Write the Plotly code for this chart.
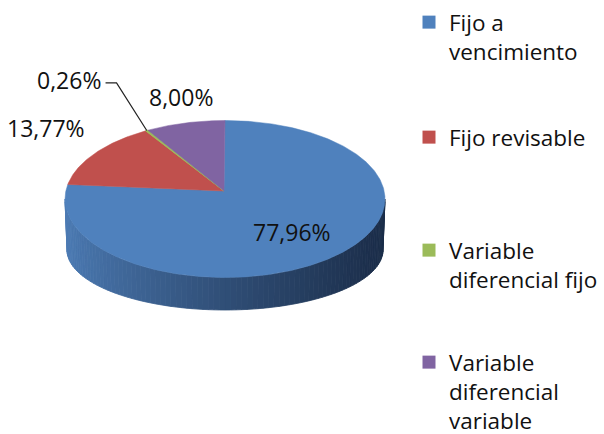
import numpy as np
import plotly.graph_objects as go

# ---- data ----
categories = ["Fijo a vencimiento", "Fijo revisable",
              "Variable diferencial fijo", "Variable diferencial variable"]
legend_labels = ["Fijo a<br>vencimiento", "Fijo revisable",
                 "Variable<br>diferencial fijo", "Variable<br>diferencial<br>variable"]
values = [77.96, 13.77, 0.26, 8.00]
colors = ["#4F81BD", "#C0504D", "#9BBB59", "#8064A2"]

# ---- geometry (pixel layout of the 3D pie) ----
W, H = 604, 434
CX, CY = 225, 199          # top face ellipse centre
A, B = 160, 78.5           # top face semi-axes
VX, VY = 224, 191          # apex of slices
BCY, BA, BB = 250, 158, 60 # bottom ellipse
FONT = "Open Sans"
TXT = "#111111"


def top_pt(deg):
    t = np.radians(deg)
    return CX + A * np.sin(t), CY - B * np.cos(t)


def bot_pt(deg):
    t = np.radians(deg)
    return CX + BA * np.sin(t), BCY - BB * np.cos(t)


fig = go.Figure()

# side of the pie (front half, gradient shaded)
light = np.array([76, 123, 180])
dark = np.array([27, 45, 73])
edges = np.linspace(90, 270, 91)
for a0, a1 in zip(edges[:-1], edges[1:]):
    xs0, ys0 = top_pt(a0)
    xs1, ys1 = top_pt(a1)
    xb1, yb1 = bot_pt(a1)
    xb0, yb0 = bot_pt(a0)
    xm = (xs0 + xs1) / 2
    t = np.clip((xm - (CX - A)) / (2 * A), 0, 1) ** 0.8
    c = light + (dark - light) * t
    col = "rgb(%d,%d,%d)" % tuple(c.round().astype(int))
    fig.add_trace(go.Scatter(
        x=[xs0, xs1, xb1, xb0, xs0], y=[ys0, ys1, yb1, yb0, ys0],
        mode="lines", fill="toself", fillcolor=col,
        line=dict(color=col, width=0.8), hoverinfo="skip", showlegend=False))

# top face wedges
total = sum(values)
cum = np.concatenate([[0], np.cumsum(values)]) / total * 360
mids = []
for i, (v, col) in enumerate(zip(values, colors)):
    s, e = cum[i], cum[i + 1]
    mids.append((s + e) / 2)
    n = max(3, int((e - s) / 0.5) + 2)
    ang = np.linspace(s, e, n)
    px, py = top_pt(ang)
    xs = np.concatenate([[VX], px, [VX]])
    ys = np.concatenate([[VY], py, [VY]])
    fig.add_trace(go.Scatter(
        x=xs, y=ys, mode="lines", fill="toself", fillcolor=col,
        line=dict(color=col, width=1 if v < 1 else 0.5),
        name=categories[i], hoverinfo="name", showlegend=False))

# data labels
label_k = [(0.66, 0.55), (1.37, 1.56), (2.0, 1.74), (1.1, 1.34)]
for i, v in enumerate(values):
    t = np.radians(mids[i])
    ox, oy = A * np.sin(t), -B * np.cos(t)
    kx, ky = label_k[i]
    lx, ly = CX + kx * ox, CY + ky * oy
    txt = ("%.2f%%" % v).replace(".", ",")
    fig.add_annotation(x=lx, y=ly, text=txt, showarrow=False,
                       font=dict(family=FONT, size=23, color=TXT),
                       xref="x", yref="y")
    if i == 2:
        ex, ey = top_pt(mids[i])
        x0 = lx + 37
        fig.add_trace(go.Scatter(
            x=[x0, x0 + 11, ex], y=[ly + 3, ly + 3, ey], mode="lines",
            line=dict(color="#222222", width=1.2), hoverinfo="skip",
            showlegend=False))

# legend entries (one legend per entry for Excel-like spacing)
legend_tops = [1, 116, 229, 341]
lay = {}
for i in range(len(values)):
    key = "legend" if i == 0 else "legend%d" % (i + 1)
    fig.add_trace(go.Scatter(
        x=[None], y=[None], mode="markers", name=legend_labels[i],
        marker=dict(symbol="square", size=13, color=colors[i]),
        legend=key, showlegend=True))
    lay[key] = dict(x=409 / W, xanchor="left", y=1 - legend_tops[i] / H,
                    yanchor="top", valign="top", bgcolor="rgba(0,0,0,0)",
                    font=dict(family=FONT, size=22.5, color=TXT),
                    itemclick=False, itemdoubleclick=False)

fig.update_layout(
    width=W, height=H, autosize=False,
    margin=dict(l=0, r=0, t=0, b=0, pad=0, autoexpand=False),
    paper_bgcolor="white", plot_bgcolor="white",
    xaxis=dict(range=[0, W], visible=False, fixedrange=True, domain=[0, 1]),
    yaxis=dict(range=[H, 0], visible=False, fixedrange=True, domain=[0, 1]),
    **lay,
)

fig.write_html("out.html",
               config={"displayModeBar": False},
               post_script="document.body.style.margin='0';"
                           "document.body.style.overflow='hidden';")
